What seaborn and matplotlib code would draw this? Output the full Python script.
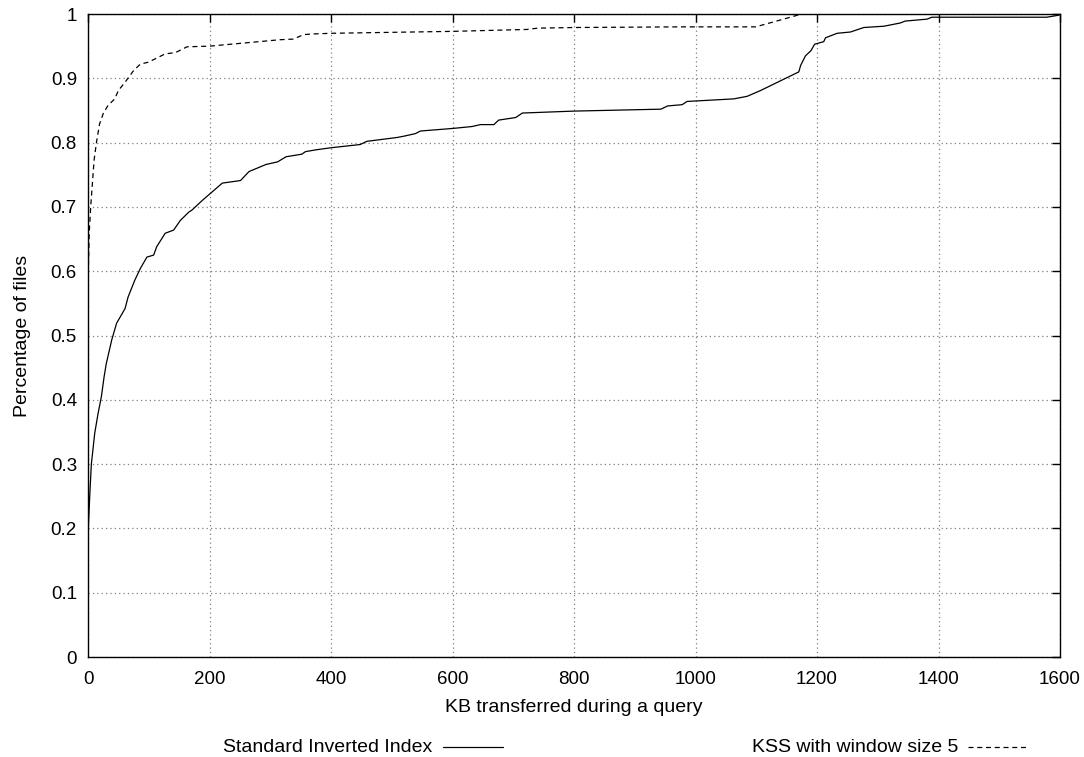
import matplotlib
matplotlib.use("Agg")
from matplotlib import pyplot as plt
from matplotlib.lines import Line2D
import matplotlib.ticker as mtick
import pandas as pd
import seaborn as sns

# Standard inverted index (solid)
std_kb = [0, 3, 5.5, 11, 16.6, 22, 26.5, 30, 39, 47, 61, 66, 77, 86, 97, 108, 113,
          127, 141, 152, 166, 171, 188, 199, 221, 251, 265, 293, 312, 326, 352, 358,
          377, 400, 448, 459, 509, 520, 539, 547, 600, 632, 646, 668, 676, 704, 715,
          800, 943, 954, 978, 986, 1063, 1085, 1107, 1170, 1173, 1181, 1190, 1196,
          1211, 1214, 1233, 1255, 1277, 1310, 1337, 1345, 1381, 1389, 1578, 1597, 1600]
std_pct = [0.19, 0.254, 0.30, 0.348, 0.379, 0.405, 0.436, 0.456, 0.493, 0.519, 0.542,
           0.56, 0.586, 0.604, 0.622, 0.625, 0.638, 0.659, 0.664, 0.679, 0.692, 0.695,
           0.71, 0.719, 0.737, 0.741, 0.755, 0.766, 0.770, 0.778, 0.782, 0.786, 0.789,
           0.792, 0.797, 0.802, 0.808, 0.810, 0.814, 0.818, 0.822, 0.825, 0.828, 0.828,
           0.835, 0.839, 0.846, 0.849, 0.852, 0.857, 0.859, 0.864, 0.868, 0.872, 0.881,
           0.910, 0.920, 0.935, 0.943, 0.953, 0.957, 0.963, 0.970, 0.972, 0.979, 0.981,
           0.986, 0.989, 0.992, 0.995, 0.995, 0.998, 1.0]

# KSS with window size 5 (dashed)
kss_kb = [0, 0.5, 2, 4.4, 10, 14, 19, 25, 33, 44, 50, 61, 75, 86, 99, 110, 127, 144,
          163, 200, 316, 338, 355, 371, 400, 600, 723, 740, 800, 976, 1099, 1175]
kss_pct = [0.50, 0.6, 0.66, 0.70, 0.773, 0.801, 0.829, 0.845, 0.858, 0.868, 0.881,
           0.894, 0.912, 0.922, 0.925, 0.930, 0.938, 0.940, 0.949, 0.950, 0.960, 0.961,
           0.968, 0.969, 0.970, 0.973, 0.976, 0.978, 0.979, 0.980, 0.980, 1.0]

x_ticks = [0, 200, 400, 600, 800, 1000, 1200, 1400, 1600]
y_ticks = [0, 0.1, 0.2, 0.3, 0.4, 0.5, 0.6, 0.7, 0.8, 0.9, 1.0]

std_label = "Standard Inverted Index"
kss_label = "KSS with window size 5"

df_std = pd.DataFrame({"kb": std_kb, "pct": std_pct})
df_kss = pd.DataFrame({"kb": kss_kb, "pct": kss_pct})

sns.set_style("white")
plt.rcParams['font.family'] = ['Liberation Sans', 'DejaVu Sans']
plt.rcParams['text.color'] = 'black'
plt.rcParams['axes.labelcolor'] = 'black'
fs = 14
tfs = 13.5

fig = plt.figure(figsize=(10.84, 7.57), dpi=100)
ax = fig.add_axes([0.0812, 0.1321, 0.8967, 0.8494])

sns.lineplot(data=df_std, x="kb", y="pct", ax=ax, color="black", lw=0.9,
             sort=False, estimator=None)
sns.lineplot(data=df_kss, x="kb", y="pct", ax=ax, color="black", lw=0.9,
             sort=False, estimator=None, linestyle=(0, (4, 3)))

ax.set_xlim(0, 1600)
ax.set_ylim(0, 1)
ax.set_xticks(x_ticks)
ax.set_yticks(y_ticks)
ax.yaxis.set_major_formatter(mtick.FuncFormatter(lambda v, p: f"{v:g}"))
ax.grid(True, color="#808080", linestyle=(0, (1, 2.5)), lw=0.9)
ax.tick_params(direction="in", length=6, width=1, top=True, right=True,
               labelsize=tfs, colors="black", labelcolor="black", pad=8)
ax.tick_params(axis="x", pad=10)
for s in ax.spines.values():
    s.set_color("black")
    s.set_linewidth(1)

ax.set_xlabel("KB transferred during a query", fontsize=fs, labelpad=8, color="black")
ax.set_ylabel("Percentage of files", fontsize=fs, labelpad=14, color="black")

# gnuplot-style key below the plot: text then line sample
ky = 1 - 747 / 757
fig.text(432 / 1084, ky, std_label, ha="right", va="center", fontsize=fs, color="black")
fig.add_artist(Line2D([443 / 1084, 503 / 1084], [ky, ky], color="black", lw=0.9,
                      transform=fig.transFigure))
fig.text(958 / 1084, ky, kss_label, ha="right", va="center", fontsize=fs, color="black")
fig.add_artist(Line2D([968 / 1084, 1028 / 1084], [ky, ky], color="black", lw=0.9,
                      linestyle=(0, (4, 3)), transform=fig.transFigure))

fig.savefig("out.png", dpi=100)
